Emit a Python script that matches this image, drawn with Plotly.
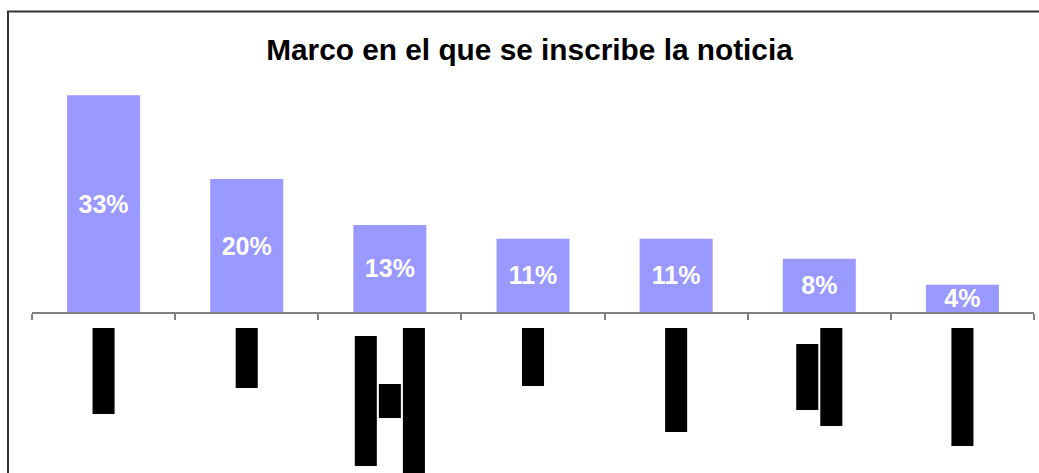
import plotly.graph_objects as go

# Data
categories = ["Cat 1", "Cat 2", "Cat 3", "Cat 4", "Cat 5", "Cat 6", "Cat 7"]
shares = [32.6, 20.0, 13.1, 11.0, 11.0, 8.0, 4.1]
# category labels are blacked out in the source: length of each (rotated) label line
label_lines = [[86], [60], [130, 34, 146], [58], [104], [66, 98], [118]]

BAR_COLOR = "#9999FF"
AXIS_COLOR = "#808080"

fig = go.Figure()

# Main bars
fig.add_trace(go.Bar(
    x=categories,
    y=shares,
    marker_color=BAR_COLOR,
    marker_line_width=0,
    texttemplate="%{y:.0f}%",
    textposition="inside",
    insidetextanchor="middle",
    constraintext="none",
    textfont=dict(family="Liberation Sans, Arial", size=25, color="white", weight="bold"),
    hoverinfo="skip",
))

# Blacked-out category labels, drawn as boxes under each category
box_x, box_len, box_base = [], [], []
for i, lines in enumerate(label_lines):
    n = len(lines)
    longest = max(lines)
    for j, ln in enumerate(lines):
        box_x.append(i + (j - (n - 1) / 2) * 0.168)
        box_len.append(ln)
        box_base.append(16 + (longest - ln) / 2)

fig.add_trace(go.Bar(
    x=box_x,
    y=box_len,
    base=box_base,
    width=0.154,
    marker_color="black",
    marker_line_width=0,
    xaxis="x2",
    yaxis="y2",
    hoverinfo="skip",
))

W, H = 1039, 473
plot_h = H - 85
split = (H - 312) / plot_h

fig.update_layout(
    width=W,
    height=H,
    margin=dict(l=32, r=5, t=85, b=0),
    paper_bgcolor="white",
    plot_bgcolor="white",
    showlegend=False,
    bargap=0.49,
    title=dict(
        text="<b>Marco en el que se inscribe la noticia</b>",
        font=dict(family="Liberation Sans, Arial", size=29.8, color="black"),
        x=0.4965,
        xanchor="center",
        xref="paper",
        y=1 - 50 / H,
        yref="container",
        yanchor="middle",
    ),
    xaxis=dict(
        type="category",
        range=[-0.5, 6.5],
        showticklabels=False,
        showgrid=False,
        zeroline=False,
        showline=True,
        linecolor=AXIS_COLOR,
        linewidth=2,
        ticks="outside",
        tickson="boundaries",
        ticklen=6,
        tickwidth=2,
        tickcolor=AXIS_COLOR,
        anchor="y",
    ),
    yaxis=dict(
        domain=[split, 1],
        range=[0, 34.14],
        visible=False,
    ),
    xaxis2=dict(
        range=[-0.5, 6.5],
        visible=False,
        anchor="y2",
    ),
    yaxis2=dict(
        domain=[0, split],
        range=[H - 312, 0],
        visible=False,
    ),
    uniformtext=dict(minsize=25, mode="show"),
)

# Chart area frame: only the left and top edges are inside the picture
fx = (8 - 32) / 1002
fy = (H - 11.5) / plot_h
fig.add_shape(
    type="path",
    xref="paper", yref="paper",
    path=f"M {fx},-0.05 L {fx},{fy} L 1.03,{fy}",
    line=dict(color="#333333", width=2),
    layer="below",
)

# drop the default page margin so the figure fills the window exactly
fig.write_html(
    "out.html",
    config={"displayModeBar": False},
    post_script="document.body.style.margin='0';document.body.style.overflow='hidden';",
)
